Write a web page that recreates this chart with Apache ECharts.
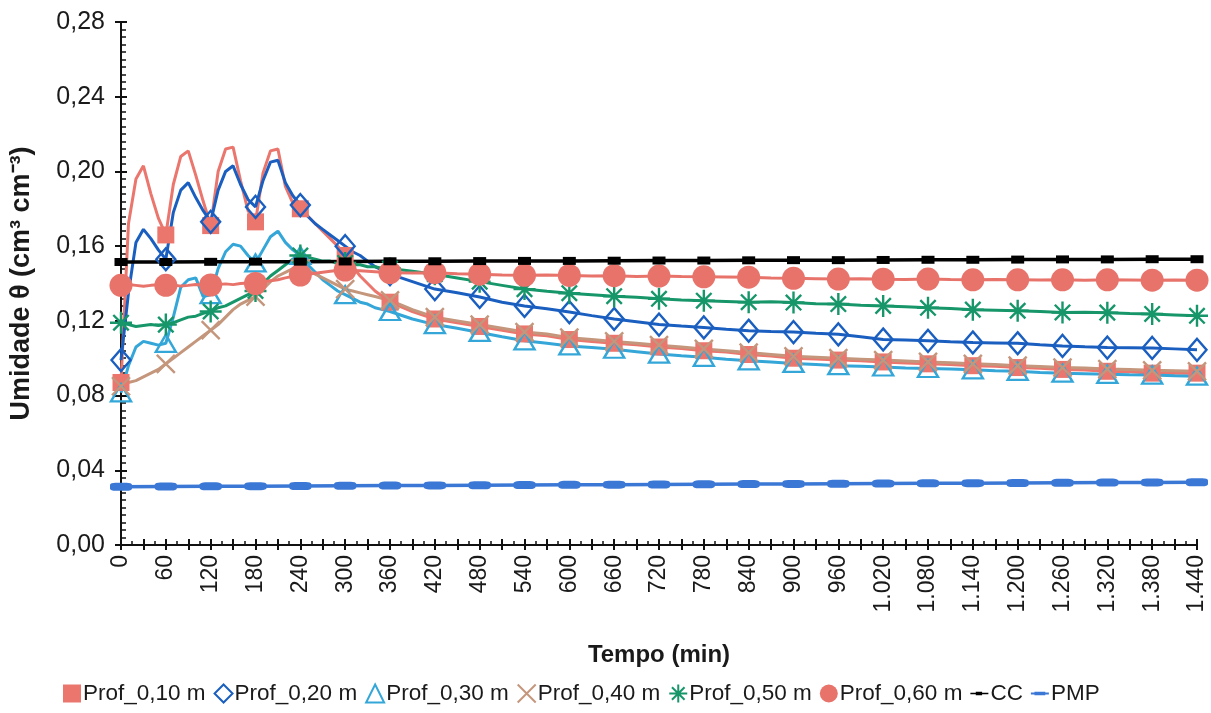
<!DOCTYPE html>
<html>
<head>
<meta charset="utf-8">
<script src="https://cdn.jsdelivr.net/npm/echarts@6/dist/echarts.min.js"></script>
<style>
html,body{margin:0;padding:0;background:#fff;}
#chart{width:1211px;height:713px;}
</style>
</head>
<body>
<div id="chart"></div>
<script>
// time (min) of each measured point
const times = [0,10,20,30,40,50,60,70,80,90,100,110,120,130,140,150,160,170,180,190,200,210,220,230,240,250,260,270,280,290,300,310,320,330,340,350,360,
  390,420,450,480,510,540,570,600,630,660,690,720,750,780,810,840,870,900,930,960,990,1020,1050,1080,1110,1140,1170,1200,1230,1260,1290,1320,1350,1380,1410,1440];
const prof10 = [0.087,0.172,0.196,0.203,0.188,0.175,0.166,0.193,0.208,0.211,0.198,0.184,0.171,0.200,0.212,0.213,0.195,0.179,0.173,0.199,0.211,0.212,0.192,0.183,0.180,0.176,0.172,0.168,0.164,0.160,0.155,0.149,0.144,0.140,0.136,0.133,0.130,
  0.125,0.121,0.119,0.117,0.115,0.113,0.112,0.110,0.109,0.108,0.1072,0.106,0.1052,0.104,0.1033,0.102,0.1012,0.100,0.0996,0.099,0.0987,0.098,0.0974,0.097,0.0966,0.096,0.0957,0.095,0.0946,0.094,0.0937,0.093,0.0927,0.092,0.0921,0.092];
const prof20 = [0.099,0.135,0.162,0.169,0.164,0.158,0.153,0.178,0.190,0.194,0.186,0.179,0.173,0.190,0.200,0.203,0.193,0.185,0.181,0.195,0.205,0.206,0.194,0.187,0.182,0.176,0.172,0.169,0.166,0.163,0.160,0.157,0.155,0.152,0.149,0.147,0.145,
  0.141,0.137,0.135,0.1328,0.130,0.128,0.1265,0.1247,0.1228,0.121,0.1195,0.118,0.1172,0.1165,0.1155,0.1147,0.1143,0.114,0.1133,0.1128,0.1115,0.110,0.1097,0.1093,0.1088,0.1084,0.1082,0.108,0.1072,0.1066,0.1061,0.1057,0.1056,0.1055,0.1050,0.1045];
const prof30 = [0.0815,0.096,0.106,0.109,0.108,0.107,0.108,0.122,0.138,0.142,0.143,0.133,0.134,0.148,0.157,0.161,0.160,0.155,0.151,0.158,0.165,0.168,0.162,0.158,0.155,0.150,0.146,0.142,0.139,0.136,0.134,0.132,0.130,0.129,0.127,0.126,0.125,
  0.121,0.118,0.116,0.1138,0.1115,0.1093,0.108,0.1066,0.1057,0.1048,0.1035,0.1022,0.1013,0.1005,0.0995,0.0986,0.098,0.0972,0.0966,0.096,0.0957,0.0953,0.0948,0.0945,0.0942,0.0938,0.0933,0.093,0.0924,0.092,0.0917,0.0914,0.0911,0.091,0.0906,0.0904];
const prof40 = [0.085,0.087,0.088,0.090,0.092,0.094,0.097,0.100,0.103,0.106,0.109,0.112,0.115,0.118,0.122,0.126,0.129,0.131,0.133,0.137,0.141,0.144,0.146,0.148,0.148,0.147,0.145,0.143,0.141,0.139,0.137,0.136,0.135,0.134,0.133,0.132,0.131,
  0.126,0.122,0.120,0.118,0.116,0.114,0.113,0.111,0.110,0.109,0.108,0.107,0.106,0.105,0.104,0.103,0.102,0.101,0.1005,0.100,0.0995,0.099,0.0985,0.098,0.0976,0.097,0.0966,0.096,0.0956,0.095,0.0947,0.0942,0.094,0.0935,0.0933,0.093];
const prof50 = [0.119,0.118,0.117,0.1175,0.118,0.1175,0.118,0.119,0.1205,0.122,0.1225,0.124,0.125,0.127,0.128,0.130,0.132,0.134,0.136,0.140,0.144,0.147,0.150,0.153,0.155,0.154,0.153,0.152,0.152,0.151,0.151,0.150,0.150,0.149,0.149,0.148,0.148,
  0.1465,0.145,0.143,0.141,0.139,0.137,0.1358,0.1348,0.134,0.1332,0.1326,0.1318,0.1312,0.1308,0.1304,0.130,0.1302,0.1298,0.1292,0.129,0.1284,0.128,0.1275,0.127,0.1266,0.126,0.1257,0.1254,0.125,0.1245,0.1246,0.1244,0.124,0.1237,0.1232,0.1227];
const prof60 = [0.139,0.1395,0.139,0.1385,0.139,0.1393,0.139,0.1392,0.1386,0.139,0.1395,0.139,0.1392,0.1395,0.1398,0.1394,0.140,0.1403,0.140,0.1408,0.1415,0.142,0.143,0.1438,0.1445,0.145,0.1455,0.146,0.1465,0.147,0.1472,0.147,0.1468,0.1466,0.1463,0.146,0.1458,
  0.1456,0.1458,0.1452,0.145,0.1446,0.1444,0.1445,0.1443,0.144,0.1442,0.1438,0.144,0.1437,0.1436,0.1435,0.1434,0.143,0.1428,0.1426,0.1424,0.1425,0.1423,0.1422,0.1424,0.1421,0.142,0.1421,0.142,0.1419,0.142,0.1418,0.142,0.1419,0.1418,0.1419,0.1418];
// reference lines, hourly
const hours = [0,60,120,180,240,300,360,420,480,540,600,660,720,780,840,900,960,1020,1080,1140,1200,1260,1320,1380,1440];
const cc  = [0.1515,0.1515,0.1516,0.1517,0.1517,0.1518,0.1519,0.1519,0.152,0.1521,0.1521,0.1522,0.1523,0.1523,0.1524,0.1525,0.1525,0.1526,0.1527,0.1527,0.1528,0.1529,0.1529,0.153,0.153];
const pmp = [0.0312,0.0313,0.0314,0.0315,0.0316,0.0317,0.0318,0.0319,0.0320,0.0321,0.0322,0.0323,0.0324,0.0325,0.0326,0.0327,0.0328,0.0329,0.0330,0.0331,0.0332,0.0333,0.0334,0.0335,0.0336];
const seriesNames = ['Prof_0,10 m','Prof_0,20 m','Prof_0,30 m','Prof_0,40 m','Prof_0,50 m','Prof_0,60 m','CC','PMP'];
const xTickLabels = ['0','60','120','180','240','300','360','420','480','540','600','660','720','780','840','900','960','1.020','1.080','1.140','1.200','1.260','1.320','1.380','1.440'];
const yTickLabels = ['0,00','0,04','0,08','0,12','0,16','0,20','0,24','0,28'];

const FONT = '"Liberation Sans", Arial, sans-serif';
const pair = (xs, ys) => xs.map((x, i) => [x, ys[i]]);
const symX = 'path://M0,0 L10,10 M10,0 L0,10';
const symAst = 'path://M5,0 L5,10 M0,5 L10,5 M1.5,1.5 L8.5,8.5 M8.5,1.5 L1.5,8.5';
const ccIcon = 'path://M0,0 L0.01,0 L0.01,0.01 Z M0,10 L0.01,10 L0.01,9.99 Z M0,4.2 L20,4.2 L20,5.8 L0,5.8 Z M6,3 L13,3 L13,7 L6,7 Z';
const pmpIcon = 'path://M0,0 L0.01,0 L0.01,0.01 Z M0,10 L0.01,10 L0.01,9.99 Z M0,4 L20,4 L20,6 L0,6 Z M4,3 L16,3 L16,7 L4,7 Z';

function hourly(sym) {
  return function (v) { return v[0] % 60 === 0 ? sym : 'none'; };
}
function mk(name, data, color, sym, size, filled, extra) {
  return Object.assign({
    name: name, type: 'line', data: data,
    xAxisIndex: 0, yAxisIndex: 0,
    symbol: hourly(sym), symbolSize: size, showAllSymbol: true,
    lineStyle: { color: color, width: 3 },
    itemStyle: filled ? { color: color, borderWidth: 0 } : { color: 'rgba(0,0,0,0)', borderColor: color, borderWidth: 2.4 },
    emphasis: { disabled: true },
    animation: false
  }, extra || {});
}

const colors = { p10: '#EA766D', p20: '#1A5FC0', p30: '#34A6D8', p40: '#C4967C', p50: '#17966A', p60: '#E8736B', cc: '#000000', pmp: '#3B78D6' };

const series = [
  mk(seriesNames[0], pair(times, prof10), colors.p10, 'rect', 17, true),
  mk(seriesNames[1], pair(times, prof20), colors.p20, 'diamond', [19, 22], false),
  mk(seriesNames[2], pair(times, prof30), colors.p30, 'triangle', [20, 17], false),
  mk(seriesNames[3], pair(times, prof40), colors.p40, symX, 18, false, {}),
  mk(seriesNames[4], pair(times, prof50), colors.p50, symAst, 22, false, {}),
  mk(seriesNames[5], pair(times, prof60), colors.p60, 'circle', 23, true),
  mk(seriesNames[6], pair(hours, cc), colors.cc, 'rect', [13, 8], true, { lineStyle: { color: colors.cc, width: 3.5 } }),
  mk(seriesNames[7], pair(hours, pmp), colors.pmp, 'roundRect', [22, 8], true, { lineStyle: { color: colors.pmp, width: 3.5 } })
];

const chart = echarts.init(document.getElementById('chart'), null, { renderer: 'canvas' });
chart.setOption({
  backgroundColor: '#ffffff',
  animation: false,
  grid: { left: 112, right: 14, top: 22, bottom: 168, containLabel: false },
  legend: {
    left: 58, top: 677,
    itemWidth: 18, itemHeight: 18, itemGap: 8,
    textStyle: { fontFamily: FONT, fontSize: 22.5, color: '#1a1a1a', padding: [0, 0, 0, -3] },
    data: [
      { name: seriesNames[0], icon: 'rect' },
      { name: seriesNames[1], icon: 'diamond' },
      { name: seriesNames[2], icon: 'triangle' },
      { name: seriesNames[3], icon: symX },
      { name: seriesNames[4], icon: symAst },
      { name: seriesNames[5], icon: 'circle' },
      { name: seriesNames[6], icon: ccIcon },
      { name: seriesNames[7], icon: pmpIcon }
    ]
  },
  xAxis: [
    {
      type: 'value', min: 0, max: 1440, interval: 30,
      name: 'Tempo (min)', nameLocation: 'middle', nameGap: 98,
      nameTextStyle: { fontFamily: FONT, fontSize: 24, fontWeight: 'bold', color: '#1a1a1a' },
      axisLine: { show: true, lineStyle: { color: '#111', width: 2 } },
      axisTick: { show: true, inside: true, length: 6, lineStyle: { color: '#111', width: 2 } },
      minorTick: { show: true, splitNumber: 2, length: 4, lineStyle: { color: '#111', width: 1.5 } },
      axisLabel: {
        rotate: 90, margin: 10, fontFamily: FONT, fontSize: 23, color: '#1a1a1a',
        formatter: function (v) { return v % 60 === 0 ? xTickLabels[v / 60] : ''; }
      },
      splitLine: { show: false }
    },
    {
      type: 'value', min: 0, max: 1440, interval: 30, position: 'bottom',
      axisLine: { show: false },
      axisTick: { show: true, inside: false, length: 5, lineStyle: { color: '#111', width: 2 } },
      axisLabel: { show: false }, splitLine: { show: false }
    }
  ],
  yAxis: [
    {
      type: 'value', min: 0, max: 0.28, interval: 0.04,
      name: 'Umidade θ (cm³ cm⁻³)', nameLocation: 'middle', nameGap: 86,
      nameTextStyle: { fontFamily: FONT, fontSize: 27, fontWeight: 'bold', color: '#1a1a1a' },
      axisLine: { show: true, lineStyle: { color: '#111', width: 2 } },
      axisTick: { show: true, inside: true, length: 6, lineStyle: { color: '#111', width: 2 } },
      minorTick: { show: true, splitNumber: 10, length: 5, lineStyle: { color: '#111', width: 1.5 } },
      axisLabel: {
        margin: 16, fontFamily: FONT, fontSize: 25, color: '#1a1a1a',
        formatter: function (v) { return yTickLabels[Math.round(v / 0.04)]; }
      },
      splitLine: { show: false }
    },
    {
      type: 'value', min: 0, max: 0.28, interval: 0.04, position: 'left',
      axisLine: { show: false },
      axisTick: { show: true, inside: false, length: 6, lineStyle: { color: '#111', width: 2 } },
      axisLabel: { show: false }, splitLine: { show: false }
    }
  ],
  series: series
});
</script>
</body>
</html>
